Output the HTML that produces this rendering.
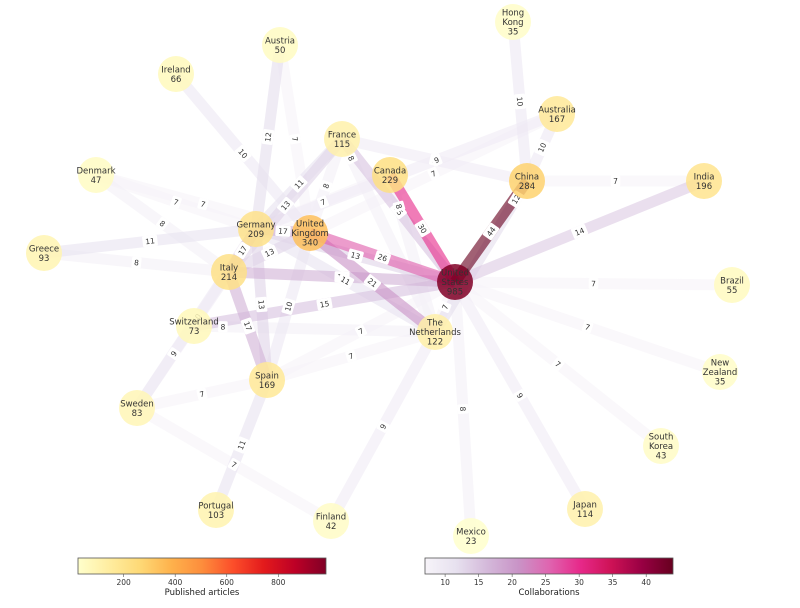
<!DOCTYPE html>
<html><head><meta charset="utf-8"><style>
html,body{margin:0;padding:0;background:#fff;}
svg{display:block;font-family:"DejaVu Sans","Liberation Sans",sans-serif;}
</style></head><body>
<svg id="chart" width="800" height="608" viewBox="0 0 800 608">
<defs>
<linearGradient id="gNode" x1="0" x2="1" y1="0" y2="0">
<stop offset="0" stop-color="#ffffcc"/><stop offset="0.125" stop-color="#ffeda0"/><stop offset="0.25" stop-color="#fed976"/><stop offset="0.375" stop-color="#feb24c"/><stop offset="0.5" stop-color="#fd8d3c"/><stop offset="0.625" stop-color="#fc4e2a"/><stop offset="0.75" stop-color="#e31a1c"/><stop offset="0.875" stop-color="#bd0026"/><stop offset="1" stop-color="#800026"/>
</linearGradient>
<linearGradient id="gEdge" x1="0" x2="1" y1="0" y2="0">
<stop offset="0" stop-color="#f7f4f9"/><stop offset="0.125" stop-color="#e7e1ef"/><stop offset="0.25" stop-color="#d4b9da"/><stop offset="0.375" stop-color="#c994c7"/><stop offset="0.5" stop-color="#df65b0"/><stop offset="0.625" stop-color="#e7298a"/><stop offset="0.75" stop-color="#ce1256"/><stop offset="0.875" stop-color="#980043"/><stop offset="1" stop-color="#67001f"/>
</linearGradient>
</defs>
<g id="edges"></g>
<g id="elabels"></g>
<g id="nodes"></g>
<g>
<rect x="78" y="558" width="248" height="16" fill="url(#gNode)" stroke="#555" stroke-width="0.8"/>
<g id="cb1ticks"></g>
<text x="202" y="595" font-size="8.5" text-anchor="middle" fill="#222">Published articles</text>
</g>
<g>
<rect x="425" y="558" width="248" height="16" fill="url(#gEdge)" stroke="#555" stroke-width="0.8"/>
<g id="cb2ticks"></g>
<text x="549" y="595" font-size="8.5" text-anchor="middle" fill="#222">Collaborations</text>
</g>
</svg>
<script>
const nodeNames = ["Hong Kong","Australia","Austria","Ireland","France","Canada","China","India","Denmark","Germany","United Kingdom","Greece","Italy","United States","Brazil","Switzerland","The Netherlands","New Zealand","Spain","Sweden","South Korea","Japan","Portugal","Finland","Mexico"];
const nodeArticles = [35,167,50,66,115,229,284,196,47,209,340,93,214,985,55,73,122,35,169,83,43,114,103,42,23];
const nodeX = [513,557,280,176,342,390,527,704,96,256,310,44,229,455,732,194,435,720,267,137,661,585,216,331,471];
const nodeY = [22,114,45,74,139,175,181,181,175,229,233,253,272,282,285,326,332,372,380,408,446,509,510,521,536];
const nodeLabelLines = [["Hong","Kong"],["Australia"],["Austria"],["Ireland"],["France"],["Canada"],["China"],["India"],["Denmark"],["Germany"],["United","Kingdom"],["Greece"],["Italy"],["United","States"],["Brazil"],["Switzerland"],["The","Netherlands"],["New","Zealand"],["Spain"],["Sweden"],["South","Korea"],["Japan"],["Portugal"],["Finland"],["Mexico"]];

const edgeFrom = ["United States","China","Hong Kong","Australia","France","Australia","Australia","Canada","China","United States","United States","United States","United States","United States","United States","The Netherlands","United States","Spain","Spain","Switzerland","Spain","Spain","Italy","Switzerland","Sweden","Sweden","Sweden","Spain","Sweden","United States","United States","Germany","United Kingdom","Italy","Germany","Italy","Germany","Greece","Greece","Denmark","Denmark","Denmark","Ireland","Austria","Austria","France","France","France","France","United States","Canada","Italy"];
const edgeTo = ["China","The Netherlands","China","China","China","Germany","United Kingdom","Germany","India","India","Brazil","New Zealand","South Korea","Japan","Mexico","Finland","The Netherlands","United States","The Netherlands","United States","United Kingdom","Germany","Spain","The Netherlands","Germany","Italy","Spain","Portugal","Finland","Canada","United Kingdom","United States","The Netherlands","United States","The Netherlands","United Kingdom","United Kingdom","Germany","Italy","Germany","Italy","United Kingdom","United Kingdom","Germany","United Kingdom","Germany","United Kingdom","Italy","The Netherlands","France","The Netherlands","Germany"];
const edgeWeights = [44,12,10,10,9,9,7,7,7,14,7,7,7,9,8,9,7,7,7,15,10,13,17,8,10,9,7,11,7,30,26,13,21,17,11,13,17,11,8,7,8,7,10,12,7,11,8,13,8,15,8,17];
const edgeLabelPos = [0.5,0.12,0.5,0.5,0.5,0.4,0.5,0.5,0.5,0.5,0.5,0.5,0.5,0.5,0.5,0.5,0.5,0.5,0.5,0.5,0.5,0.5,0.5,0.12,0.5,0.4,0.5,0.5,0.5,0.5,0.5,0.5,0.5,0.5,0.5,0.5,0.5,0.5,0.5,0.5,0.5,0.5,0.5,0.5,0.5,0.5,0.5,0.5,0.1,0.5,0.2,0.5];

const articleTicks = [200,400,600,800];
const collabTicks = [10,15,20,25,30,35,40];

const NS = "http://www.w3.org/2000/svg";
const aMin = Math.min(...nodeArticles), aMax = Math.max(...nodeArticles);
const wMin = Math.min(...edgeWeights), wMax = Math.max(...edgeWeights);
const ylorrd = ["#ffffcc","#ffeda0","#fed976","#feb24c","#fd8d3c","#fc4e2a","#e31a1c","#bd0026","#800026"];
const purd = ["#f7f4f9","#e7e1ef","#d4b9da","#c994c7","#df65b0","#e7298a","#ce1256","#980043","#67001f"];
function hex(h){return [1,3,5].map(i=>parseInt(h.substr(i,2),16));}
function cmap(stops,t){t=Math.max(0,Math.min(1,t));const p=t*(stops.length-1);const i=Math.min(stops.length-2,Math.floor(p));const f=p-i;const a=hex(stops[i]),b=hex(stops[i+1]);return "rgb("+a.map((v,k)=>Math.round(v+(b[k]-v)*f)).join(",")+")";}
function nodeColor(v){return cmap(ylorrd,(v-aMin)/(aMax-aMin));}
function edgeColor(v){return cmap(purd,(v-wMin)/(wMax-wMin));}
function idx(n){return nodeNames.indexOf(n);}

const gE=document.getElementById("edges"), gL=document.getElementById("elabels"), gN=document.getElementById("nodes");
const order = edgeWeights.map((w,i)=>i).sort((a,b)=>edgeWeights[a]-edgeWeights[b]);
order.forEach(i=>{
  const a=idx(edgeFrom[i]), b=idx(edgeTo[i]);
  const ln=document.createElementNS(NS,"line");
  ln.setAttribute("x1",nodeX[a]);ln.setAttribute("y1",nodeY[a]);
  ln.setAttribute("x2",nodeX[b]);ln.setAttribute("y2",nodeY[b]);
  ln.setAttribute("stroke",edgeColor(edgeWeights[i]));
  ln.setAttribute("stroke-width",11);
  ln.setAttribute("stroke-opacity",0.62);
  
  
  gE.appendChild(ln);
});
edgeWeights.forEach((w,i)=>{
  const a=idx(edgeFrom[i]), b=idx(edgeTo[i]);
  const t=edgeLabelPos[i];
  const x=nodeX[a]+(nodeX[b]-nodeX[a])*t, y=nodeY[a]+(nodeY[b]-nodeY[a])*t;
  let ang=Math.atan2(nodeY[b]-nodeY[a],nodeX[b]-nodeX[a])*180/Math.PI;
  if(ang>90)ang-=180; if(ang<-90)ang+=180;
  const g=document.createElementNS(NS,"g");
  g.setAttribute("transform","translate("+x.toFixed(1)+","+y.toFixed(1)+") rotate("+ang.toFixed(1)+")");
  
  
  const r=document.createElementNS(NS,"rect");
  const bw=String(w).length*5.5+4;
  r.setAttribute("x",-bw/2);r.setAttribute("y",-5.5);r.setAttribute("width",bw);r.setAttribute("height",11);
  r.setAttribute("rx",1.5);r.setAttribute("fill","#fff");
  g.appendChild(r);
  const tx=document.createElementNS(NS,"text");
  tx.setAttribute("y",2.8);tx.setAttribute("text-anchor","middle");tx.setAttribute("font-size","7.5");tx.setAttribute("fill","#333");
  tx.textContent=w;
  g.appendChild(tx);
  gL.appendChild(g);
});
nodeNames.forEach((n,i)=>{
  const g=document.createElementNS(NS,"g");
  
  
  const c=document.createElementNS(NS,"circle");
  c.setAttribute("cx",nodeX[i]);c.setAttribute("cy",nodeY[i]);c.setAttribute("r",18);
  c.setAttribute("fill",nodeColor(nodeArticles[i]));c.setAttribute("fill-opacity",0.85);
  g.appendChild(c);
  const lines=nodeLabelLines[i].concat([String(nodeArticles[i])]);
  const lh=9.5, y0=nodeY[i]-(lines.length-1)*lh/2+3;
  lines.forEach((s,k)=>{
    const tx=document.createElementNS(NS,"text");
    tx.setAttribute("x",nodeX[i]);tx.setAttribute("y",(y0+k*lh).toFixed(1));
    tx.setAttribute("text-anchor","middle");tx.setAttribute("font-size","8.5");tx.setAttribute("fill","#333");
    tx.textContent=s;
    g.appendChild(tx);
  });
  gN.appendChild(g);
});
function ticks(gid,arr,x0,w,mn,mx){
  const g=document.getElementById(gid);
  arr.forEach(v=>{
    const x=x0+(v-mn)/(mx-mn)*w;
    const l=document.createElementNS(NS,"line");
    l.setAttribute("x1",x);l.setAttribute("x2",x);l.setAttribute("y1",574);l.setAttribute("y2",577);l.setAttribute("stroke","#555");l.setAttribute("stroke-width",0.6);
    
    
    g.appendChild(l);
    const t=document.createElementNS(NS,"text");
    t.setAttribute("x",x);t.setAttribute("y",585);t.setAttribute("text-anchor","middle");t.setAttribute("font-size","7.5");t.setAttribute("fill","#333");
    
    
    t.textContent=v;
    g.appendChild(t);
  });
}
ticks("cb1ticks",articleTicks,78,248,aMin,aMax);
ticks("cb2ticks",collabTicks,425,248,wMin,wMax);
</script>
</body></html>
